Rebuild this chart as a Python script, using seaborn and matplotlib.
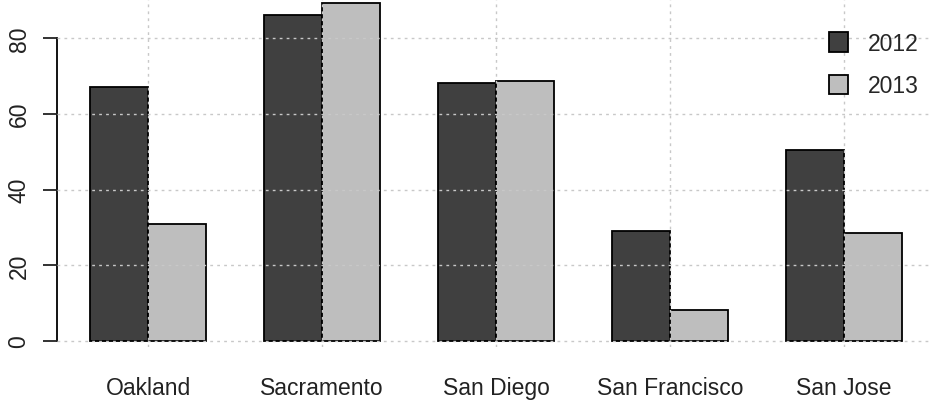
import matplotlib
matplotlib.use("Agg")
import matplotlib.pyplot as plt
import seaborn as sns
import pandas as pd
from matplotlib.patches import Patch

cities = ["Oakland", "Sacramento", "San Diego", "San Francisco", "San Jose"]
years = ["2012", "2013"]
values_2012 = [67.0, 86.0, 68.1, 29.0, 50.4]
values_2013 = [30.9, 89.2, 68.6, 8.2, 28.5]
colors = {"2012": "#404040", "2013": "#BEBEBE"}
yticks = [0, 20, 40, 60, 80]

df = pd.DataFrame({
    "city": cities * 2,
    "year": ["2012"] * len(cities) + ["2013"] * len(cities),
    "value": values_2012 + values_2013,
})

sns.set_style("white")
plt.rcParams["font.family"] = ["Liberation Sans", "DejaVu Sans"]

fig = plt.figure(figsize=(9.3, 4.06), dpi=100)
ax = fig.add_axes([57 / 930, 1 - 348 / 406, 1 - 57 / 930, 348 / 406])

sns.barplot(data=df, x="city", y="value", hue="year", order=cities,
            hue_order=years, palette=colors, width=2 / 3, gap=0,
            edgecolor="black", linewidth=1.3, saturation=1, ax=ax,
            legend=False, errorbar=None)

ax.set_xlim(-0.523, 4.494)
ax.set_ylim(-(348 - 342) / 3.7875, 342 / 3.7875)
ax.set_yticks(yticks)
ax.set_yticklabels([str(t) for t in yticks], rotation=90, va="center",
                   fontsize=16.5, color="#222222")
ax.set_xticks(range(len(cities)))
ax.set_xticklabels(cities, fontsize=16.5, color="#222222")
ax.tick_params(axis="x", length=0, pad=21)
ax.tick_params(axis="y", length=10, width=1.3, direction="out", pad=9,
               colors="#222222", left=True)
ax.set_xlabel("")
ax.set_ylabel("")

for s in ["top", "right", "bottom"]:
    ax.spines[s].set_visible(False)
ax.spines["left"].set_bounds(0, 80)
ax.spines["left"].set_linewidth(1.3)
ax.spines["left"].set_color("black")

ax.set_axisbelow(False)
ax.grid(True, color="#C8C8C8", linestyle=(0, (2, 3)), linewidth=1.0, zorder=5)
for gl in ax.get_xgridlines() + ax.get_ygridlines():
    gl.set_zorder(5)

handles = [Patch(facecolor=colors[y], edgecolor="black", linewidth=1.3) for y in years]
ax.legend(handles, years, loc="upper left", bbox_to_anchor=(829 / 930, 1 - 33 / 406),
          bbox_transform=fig.transFigure, frameon=False, fontsize=16.5,
          handlelength=0.85, handleheight=0.95, handletextpad=0.85,
          labelspacing=0.85, borderpad=0, borderaxespad=0)

fig.savefig("out.png", dpi=100)
